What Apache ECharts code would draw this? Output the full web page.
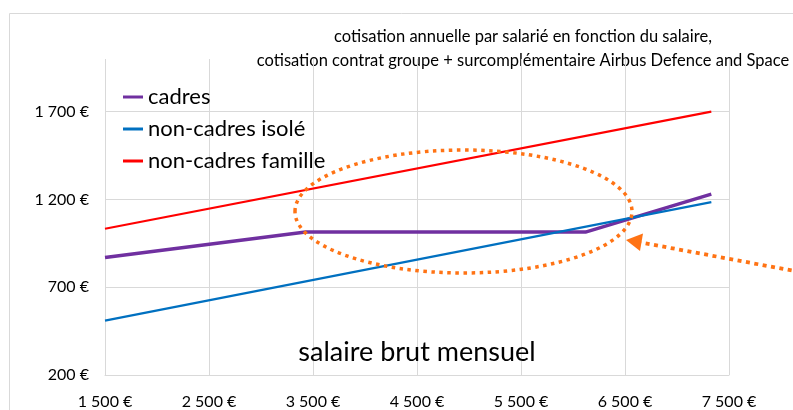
<!DOCTYPE html>
<html>
<head>
<meta charset="utf-8">
<script src="https://cdn.jsdelivr.net/npm/echarts@6/dist/echarts.min.js"></script>
<style>
  html, body { margin: 0; padding: 0; background: #fff; }
  #chart { width: 793px; height: 410px; }
</style>
</head>
<body>
<div id="chart"></div>
<script>
// salaire brut mensuel (€) -> cotisation annuelle (€)
const cadresSalaire = [1500, 3430, 6120, 7330]
const cadresCotisation = [869, 1014, 1014, 1230]
const isoleSalaire = [1500, 7330]
const isoleCotisation = [510, 1185]
const familleSalaire = [1500, 7330]
const familleCotisation = [1033, 1700]

const seriesNames = ['cadres', 'non-cadres isolé', 'non-cadres famille']
const titleLines = [
  'cotisation annuelle par salarié en fonction du salaire,',
  'cotisation contrat groupe + surcomplémentaire Airbus Defence and Space'
]
const xName = 'salaire brut mensuel'

const FONT = 'Lato'
const ORANGE = '#ff7314'
const GRID = '#d9d9d9'

function euro(v) {
  return String(v).replace(/\B(?=(\d{3})+(?!\d))/g, ' ') + ' €'
}

function pairs(xs, ys) {
  return xs.map((x, i) => [x, ys[i]])
}

const chart = echarts.init(document.getElementById('chart'))

chart.setOption({
  animation: false,
  textStyle: { fontFamily: FONT },
  grid: { left: 105, right: 64, top: 59, bottom: 35 },
  legend: {
    orient: 'vertical',
    left: 123,
    top: 86,
    padding: 0,
    itemWidth: 20,
    itemHeight: 3,
    itemGap: 10,
    icon: 'rect',
    textStyle: { fontFamily: FONT, fontSize: 22, color: '#000' },
    data: seriesNames
  },
  xAxis: {
    type: 'value',
    min: 1500,
    max: 7500,
    interval: 1000,
    name: xName,
    nameLocation: 'middle',
    nameGap: -36,
    nameTextStyle: { fontFamily: FONT, fontSize: 27, color: '#000' },
    axisLine: { show: true, lineStyle: { color: GRID, width: 1 } },
    axisTick: { show: false },
    axisLabel: { formatter: euro, fontFamily: FONT, fontSize: 16, color: '#000', margin: 19 },
    splitLine: { show: true, lineStyle: { color: GRID, width: 1 } }
  },
  yAxis: {
    type: 'value',
    min: 200,
    max: 2000,
    interval: 500,
    axisLine: { show: false },
    axisTick: { show: false },
    axisLabel: {
      formatter: euro,
      fontFamily: FONT,
      fontSize: 16,
      color: '#000',
      margin: 16,
      showMaxLabel: false
    },
    splitLine: { show: true, showMaxLine: false, lineStyle: { color: GRID, width: 1 } }
  },
  series: [
    {
      name: seriesNames[0],
      type: 'line',
      symbol: 'none',
      data: pairs(cadresSalaire, cadresCotisation),
      lineStyle: { color: '#7030a0', width: 3.5 },
      itemStyle: { color: '#7030a0' },
      z: 3
    },
    {
      name: seriesNames[1],
      type: 'line',
      symbol: 'none',
      data: pairs(isoleSalaire, isoleCotisation),
      lineStyle: { color: '#0070c0', width: 2.2 },
      itemStyle: { color: '#0070c0' },
      z: 4
    },
    {
      name: seriesNames[2],
      type: 'line',
      symbol: 'none',
      data: pairs(familleSalaire, familleCotisation),
      lineStyle: { color: '#ff0000', width: 2.2 },
      itemStyle: { color: '#ff0000' },
      z: 3
    }
  ],
  graphic: [
    {
      type: 'rect',
      silent: true,
      shape: { x: 9.5, y: 13.5, width: 820, height: 420 },
      style: { fill: 'none', stroke: GRID, lineWidth: 1 }
    },
    {
      type: 'text',
      x: 523,
      y: 37,
      style: {
        text: titleLines[0],
        font: '16.5px ' + FONT,
        fill: '#000',
        textAlign: 'center',
        textVerticalAlign: 'middle'
      }
    },
    {
      type: 'text',
      x: 523,
      y: 61,
      style: {
        text: titleLines[1],
        font: '16.5px ' + FONT,
        fill: '#000',
        textAlign: 'center',
        textVerticalAlign: 'middle'
      }
    },
    {
      type: 'ellipse',
      silent: true,
      z: 10,
      shape: { cx: 463.5, cy: 211.5, rx: 168.5, ry: 61.5 },
      style: { fill: 'none', stroke: ORANGE, lineWidth: 3.5, lineDash: [3.5, 4.5] }
    },
    {
      type: 'polyline',
      silent: true,
      z: 10,
      shape: { points: [[800, 272], [641, 242.5]] },
      style: { stroke: ORANGE, lineWidth: 3.8, lineDash: [4, 4.5] }
    },
    {
      type: 'polygon',
      silent: true,
      z: 10,
      shape: { points: [[626, 240], [643, 233.5], [640, 251]] },
      style: { fill: ORANGE }
    }
  ]
})
</script>
</body>
</html>
